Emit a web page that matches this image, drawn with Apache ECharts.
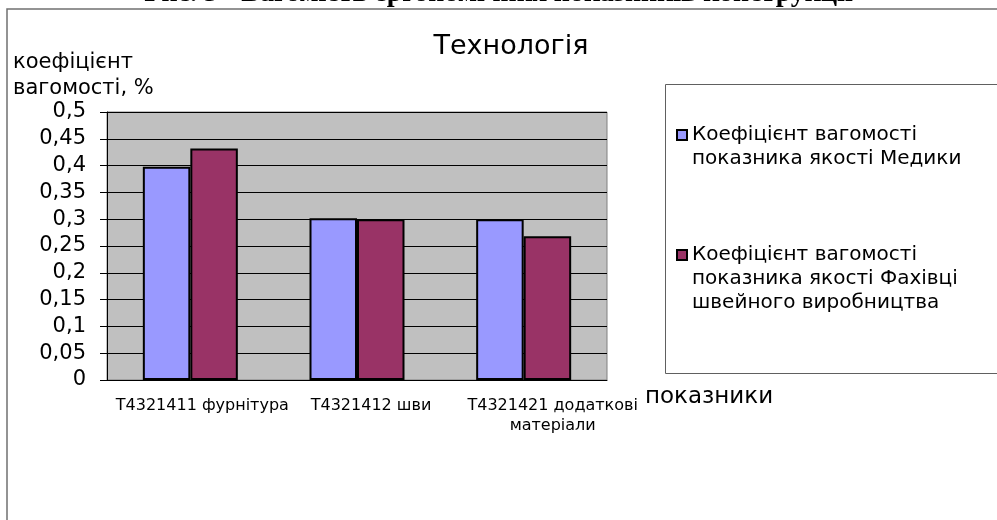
<!DOCTYPE html>
<html>
<head>
<meta charset="utf-8">
<script src="https://cdn.jsdelivr.net/npm/echarts@6/dist/echarts.min.js"></script>
<style>
  html, body { margin: 0; padding: 0; background: #fff; }
  #chart { width: 997px; height: 520px; }
</style>
</head>
<body>
<div id="chart"></div>
<script>
// дані з діаграми
var categories = ['T4321411 фурнітура', 'T4321412 шви', 'T4321421 додаткові\nматеріали'];
var seriesNames = [
    'Коефіцієнт вагомості\nпоказника якості Медики',
    'Коефіцієнт вагомості\nпоказника якості Фахівці\nшвейного виробництва'
];
var medicsValues = [0.398, 0.302, 0.300];
var expertsValues = [0.432, 0.300, 0.268];

var font = 'DejaVu Sans, Liberation Sans, Arial, sans-serif';

// перший рядок підпису легенди стоїть навпроти значка
function legendText(name) {
    var n = name.split('\n').length;
    return new Array(n).join('\n') + name;
}

// у Excel підписи категорій трохи зсунуті праворуч
function categoryLabel(value, index) {
    return value.split('\n').map(function (line) {
        return '{c' + index + '|' + line + '}';
    }).join('\n');
}

function chart() {
    var myChart = echarts.init(document.getElementById('chart'));

    var legendBase = {
        left: 676, padding: 0,
        itemWidth: 10, itemHeight: 10,
        icon: 'rect',
        formatter: legendText,
        textStyle: { fontFamily: font, fontSize: 20, lineHeight: 24, color: '#000' }
    };
    var labelStyle = { fontFamily: font, fontSize: 16, lineHeight: 20, color: '#000' };

    var option = {
        animation: false,
        backgroundColor: '#fff',
        title: {
            text: 'Технологія',
            left: 506,
            textAlign: 'center',
            top: 28,
            textStyle: { fontFamily: font, fontSize: 27, fontWeight: 'normal', color: '#000' }
        },
        graphic: [
            // підпис рисунка, обрізаний зверху
            {
                type: 'text', left: 'center', top: -20,
                style: {
                    text: 'Рис. 5 - Вагомість ергономічних показників конструкції',
                    font: 'bold 28px Liberation Serif, Times New Roman, serif',
                    fill: '#000'
                }
            },
            // рамка діаграми
            {
                type: 'rect', shape: { x: 7, y: 9, width: 1000, height: 520 },
                style: { fill: 'none', stroke: '#707070', lineWidth: 1.5 }
            },
            // рамка легенди
            {
                type: 'rect', shape: { x: 665.5, y: 84.5, width: 340, height: 289 },
                style: { fill: '#fff', stroke: '#606060', lineWidth: 1 }
            },
            {
                type: 'text', left: 645, top: 386,
                style: { text: 'показники', font: '23px ' + font, fill: '#000' }
            }
        ],
        legend: [
            echarts.util.extend({ data: [seriesNames[0]], top: 99 }, legendBase),
            echarts.util.extend({ data: [seriesNames[1]], top: 195 }, legendBase)
        ],
        grid: {
            left: 107, top: 112, width: 500, height: 268,
            show: true, backgroundColor: '#C0C0C0', borderColor: '#808080', borderWidth: 1
        },
        xAxis: {
            type: 'category',
            data: categories,
            axisLine: { lineStyle: { color: '#000', width: 1 } },
            axisTick: { length: 5, lineStyle: { color: '#000' } },
            axisLabel: {
                fontFamily: font, fontSize: 16, color: '#000', margin: 16, lineHeight: 20, interval: 0,
                formatter: categoryLabel,
                rich: {
                    c0: echarts.util.extend({ padding: [0, 0, 0, 24] }, labelStyle),
                    c1: echarts.util.extend({ padding: [0, 0, 0, 28] }, labelStyle),
                    c2: echarts.util.extend({ padding: [0, 0, 0, 58] }, labelStyle)
                }
            }
        },
        yAxis: {
            type: 'value',
            min: 0, max: 0.5, interval: 0.05,
            name: 'коефіцієнт\nвагомості, %',
            nameLocation: 'end',
            nameGap: 5,
            nameTextStyle: { fontFamily: font, fontSize: 21, lineHeight: 26, color: '#000', align: 'left', padding: [0, 0, 0, -94] },
            axisLine: { show: true, lineStyle: { color: '#000', width: 1 } },
            axisTick: { show: true, length: 7, lineStyle: { color: '#000' } },
            splitLine: { lineStyle: { color: '#000', width: 1 } },
            axisLabel: {
                fontFamily: font, fontSize: 21, color: '#000', margin: 21,
                formatter: function (v) { return String(+v.toFixed(2)).replace('.', ','); }
            }
        },
        series: [
            {
                name: seriesNames[0],
                type: 'bar',
                data: medicsValues,
                barGap: '0%',
                barCategoryGap: '43%',
                itemStyle: { color: '#9999FF', borderColor: '#000', borderWidth: 2 }
            },
            {
                name: seriesNames[1],
                type: 'bar',
                data: expertsValues,
                itemStyle: { color: '#993366', borderColor: '#000', borderWidth: 2 }
            }
        ]
    };

    myChart.setOption(option);
}
chart();
</script>
</body>
</html>
